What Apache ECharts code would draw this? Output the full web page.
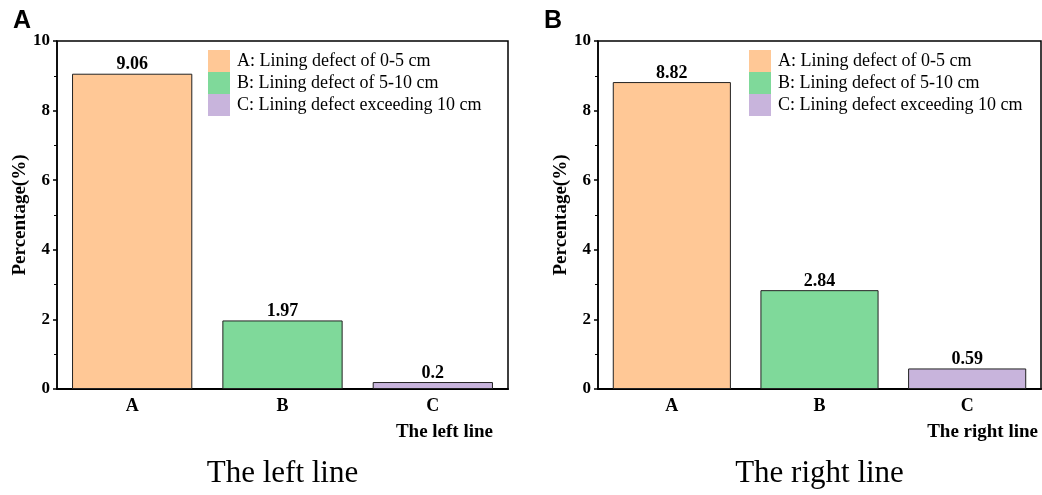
<!DOCTYPE html>
<html>
<head>
<meta charset="utf-8">
<script src="https://cdn.jsdelivr.net/npm/echarts@6/dist/echarts.min.js"></script>
<style>html,body{margin:0;padding:0;background:#fff;}#c{width:1042px;height:495px;}</style>
</head>
<body>
<div id="c"></div>
<script>
const categories = ['A', 'B', 'C'];
const leftValues = [9.06, 1.97, 0.2];
const rightValues = [8.82, 2.84, 0.59];
const legendNames = ['A: Lining defect of 0-5 cm', 'B: Lining defect of 5-10 cm', 'C: Lining defect exceeding 10 cm'];
const colors = ['#FFC896', '#7FD99A', '#C8B4DC'];
const yTicks = [0, 2, 4, 6, 8, 10];
const panelTitles = ['The left line', 'The right line'];
const panelLetters = ['A', 'B'];

const serif = 'Liberation Serif, Times New Roman, serif';
const chart = echarts.init(document.getElementById('c'));

const grids = [
  {left: 57, top: 41, width: 451, height: 348},
  {left: 598, top: 41, width: 443, height: 348}
];

function xAxis(i) {
  return {
    type: 'category', gridIndex: i, data: categories,
    axisLine: {lineStyle: {color: '#000', width: 2}},
    axisTick: {show: false},
    axisLabel: {fontFamily: serif, fontWeight: 'bold', fontSize: 18, color: '#000', margin: 8}
  };
}
function yAxis(i) {
  return {
    type: 'value', gridIndex: i, min: 0, max: 10, interval: 2,
    name: 'Percentage(%)', nameLocation: 'middle', nameGap: 27,
    nameTextStyle: {fontFamily: serif, fontWeight: 'bold', fontSize: 19, color: '#000'},
    axisLine: {show: true, lineStyle: {color: '#000', width: 1.5}},
    axisTick: {show: true, inside: false, length: 4, lineStyle: {color: '#000', width: 1.5}},
    minorTick: {show: true, splitNumber: 2, length: 3, lineStyle: {color: '#000', width: 1}},
    splitLine: {show: false},
    axisLabel: {fontFamily: serif, fontWeight: 'bold', fontSize: 17, color: '#000', margin: 7,
      formatter: v => yTicks.includes(v) ? String(v) : ''}
  };
}

const series = [];
[leftValues, rightValues].forEach((vals, g) => {
  categories.forEach((c, i) => {
    series.push({
      type: 'bar', name: legendNames[i], xAxisIndex: g, yAxisIndex: g,
      barCategoryGap: '20%', barGap: '-100%',
      itemStyle: {color: colors[i], borderColor: '#222', borderWidth: 1},
      label: {show: true, position: 'top', fontFamily: serif, fontWeight: 'bold', fontSize: 18, color: '#000', distance: 0},
      data: categories.map((cc, j) => j === i ? vals[j] : '-')
    });
  });
});

function legend(left) {
  return {
    left: left, top: 50, padding: 0, orient: 'vertical', itemWidth: 22, itemHeight: 22, itemGap: 0,
    icon: 'rect', data: legendNames,
    textStyle: {fontFamily: serif, fontSize: 18, color: '#000', padding: [0, 0, 0, 2]},
    itemStyle: {borderWidth: 0}
  };
}

const graphics = [];
grids.forEach((gr, i) => {
  graphics.push({type: 'text', left: (i === 0 ? 13 : 544), top: 9,
    style: {text: panelLetters[i], font: 'bold 25px Liberation Sans, Arial, sans-serif', fill: '#000'}});
  graphics.push({type: 'text', x: gr.left + gr.width - (i === 0 ? 15 : 3), y: 432,
    style: {text: panelTitles[i], font: 'bold 19px ' + serif, fill: '#000', textAlign: 'right', textVerticalAlign: 'middle'}});
  graphics.push({type: 'text', x: gr.left + gr.width / 2, y: 474,
    style: {text: panelTitles[i], font: '31px ' + serif, fill: '#000', textAlign: 'center', textVerticalAlign: 'middle'}});
});

chart.setOption({
  animation: false,
  grid: grids.map(g => Object.assign({show: true, borderColor: '#000', borderWidth: 1.5, backgroundColor: 'transparent'}, g)),
  xAxis: [xAxis(0), xAxis(1)],
  yAxis: [yAxis(0), yAxis(1)],
  legend: [legend(208), legend(749)],
  series: series,
  graphic: graphics
});
</script>
</body>
</html>
